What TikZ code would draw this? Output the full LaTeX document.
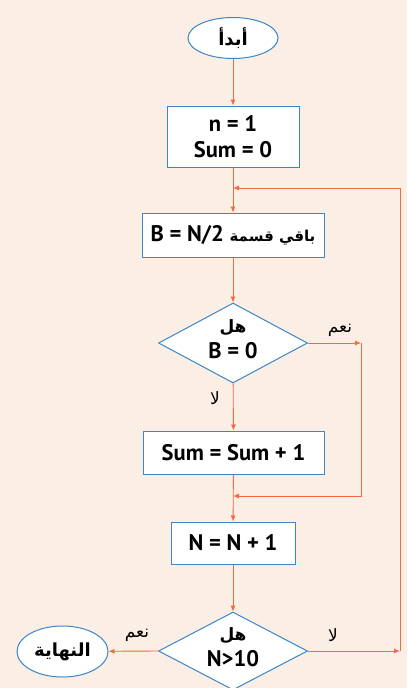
\documentclass[tikz,border=0pt]{standalone}
\usepackage{fontspec}
\setmainfont{PT Sans}
\newfontfamily\arabicfont[Script=Arabic]{DejaVu Sans}
\TeXXeTstate=1
\usetikzlibrary{shapes.geometric, arrows.meta, positioning}
\definecolor{mypeach}{HTML}{FBEEE5}
\definecolor{myorange}{HTML}{F26B3F}
\definecolor{myblue}{HTML}{3A86C8}
\tikzset{
	terminal/.style={ellipse, draw=myblue, fill=white, line width=1pt, inner sep=0pt},
	process/.style={rectangle, draw=myblue, fill=white, line width=1pt, inner sep=0pt, align=center},
	decision/.style={diamond, draw=myblue, fill=white, line width=1pt, inner sep=0pt},
	boxtext/.style={font=\fontsize{22.5}{26}\selectfont\bfseries, align=center},
	smalllabel/.style={font=\fontsize{17}{19}\selectfont\arabicfont},
	flow/.style={draw=myorange, line width=0.9pt, -{Latex[length=6pt,width=5pt]}},
	plainflow/.style={draw=myorange, line width=0.9pt}
}

\begin{document}
\begin{tikzpicture}[x=1pt, y=-1pt]
      \useasboundingbox (0,0) rectangle (407,688);
      \fill[mypeach] (0,0) rectangle (407,688);

      % start and end
      \node[terminal, minimum width=90pt, minimum height=41pt] (start) at (233,38)
        {\fontsize{18}{20}\selectfont\arabicfont\bfseries\beginR أبدأ\endR};
      \node[terminal, minimum width=91pt, minimum height=51pt] (stop) at (62.5,651.5)
        {\fontsize{18}{20}\selectfont\arabicfont\bfseries\beginR النهاية\endR};

      % process boxes
      \node[process, boxtext, minimum width=132pt, minimum height=61pt] (init) at (233,136.5)
        {n = 1\\Sum = 0};
      \node[process, boxtext, minimum width=182pt, minimum height=44pt] (rem) at (233,235)
        {B = N/2 {\fontsize{15}{20}\selectfont\arabicfont\beginR باقي قسمة\endR}};
      \node[process, boxtext, minimum width=181pt, minimum height=43pt] (inc) at (233.5,452.5)
        {Sum = Sum + 1};
      \node[process, boxtext, minimum width=124pt, minimum height=42pt] (next) at (233,543)
        {N = N + 1};

      % decisions
      \node[decision, minimum width=149pt, minimum height=80pt] (isb) at (233,343) {};
      \node[boxtext] (isbtext) at (233,339) {{\fontsize{17}{20}\selectfont\arabicfont\beginR هل\endR}\\B = 0};
      \node[decision, minimum width=149pt, minimum height=78pt] (isn) at (233,651) {};
      \node[boxtext] (isntext) at (233,647) {{\fontsize{17}{20}\selectfont\arabicfont\beginR هل\endR}\\N>10};

      % corners and merge points
      \coordinate (top) at (233,188);
      \coordinate (mid) at (233,496);
      \coordinate (yescorner) at (361,343);
      \coordinate (nocorner) at (400,651);

      % connectors
      \draw[flow] (start) -- (init);
      \draw[flow] (init) -- (rem);
      \draw[flow] (rem) -- (isb);
      \draw[flow] (isb) -- (inc);
      \draw[flow] (inc) -- (next);
      \draw[flow] (next) -- (isn);
      \draw[flow] (isb.east) -- (yescorner);
      \draw[flow] (yescorner) |- (mid);
      \draw[flow] (isn.east) -- (nocorner);
      \draw[flow] (nocorner) |- (top);
      \draw[flow] (isn.west) -- (stop);

      % branch labels
      \node[smalllabel] (yes1) at (340,330) {\beginR نعم\endR};
      \node[smalllabel] (no1) at (215,398) {\beginR لا\endR};
      \node[smalllabel] (yes2) at (137,635) {\beginR نعم\endR};
      \node[smalllabel] (no2) at (333,635) {\beginR لا\endR};
\end{tikzpicture}
\end{document}
